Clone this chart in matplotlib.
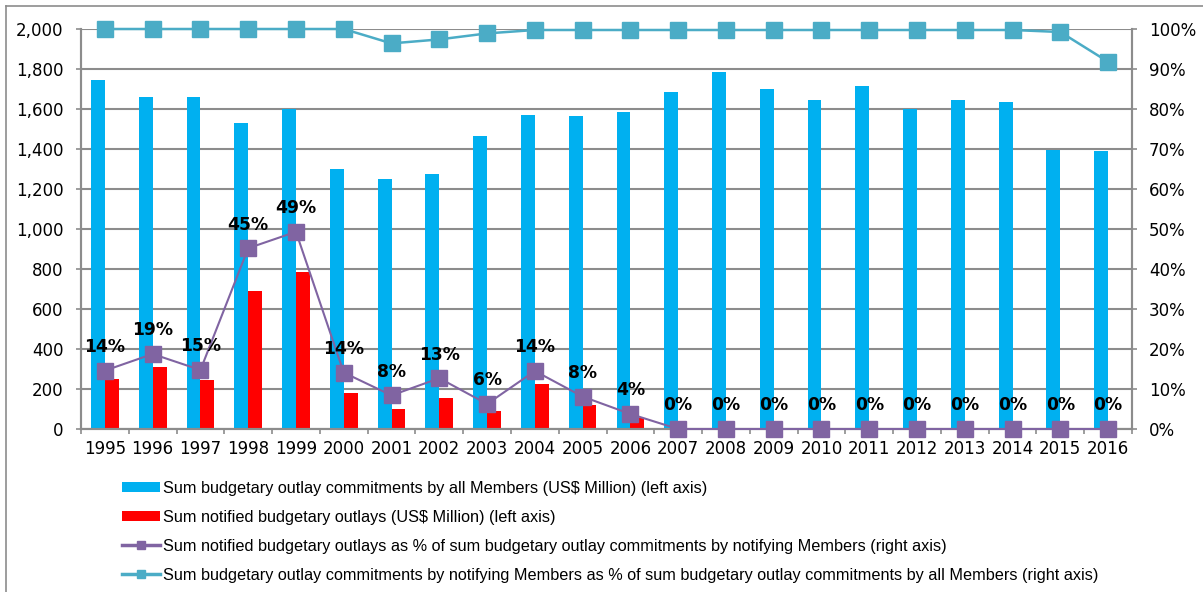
import numpy as np
import matplotlib.pyplot as plt
from matplotlib.lines import Line2D
from matplotlib.patches import Patch
from matplotlib.ticker import FuncFormatter

years = [str(y) for y in range(1995, 2017)]
commit_all = [1745, 1662, 1658, 1528, 1600, 1298, 1248, 1277, 1465, 1570, 1565,
              1583, 1685, 1785, 1702, 1643, 1715, 1600, 1645, 1637, 1395, 1390]
notified = [250, 310, 243, 690, 787, 182, 100, 157, 92, 223, 122,
            55, 0, 0, 0, 0, 0, 0, 0, 0, 0, 0]
pct_notified = [14.6, 18.75, 14.75, 45.2, 49.3, 14.1, 8.4, 12.7, 6.25, 14.5, 8.1,
                3.75, 0, 0, 0, 0, 0, 0, 0, 0, 0, 0]
pct_labels = ['14%', '19%', '15%', '45%', '49%', '14%', '8%', '13%', '6%', '14%', '8%',
              '4%', '0%', '0%', '0%', '0%', '0%', '0%', '0%', '0%', '0%', '0%']
pct_commit = [100, 100, 100, 100, 100, 100, 96.4, 97.4, 98.9, 99.75, 99.75,
              99.75, 99.75, 99.75, 99.75, 99.75, 99.75, 99.75, 99.75, 99.75, 99.25, 91.8]

legend_labels = [
    'Sum budgetary outlay commitments by all Members (US$ Million) (left axis)',
    'Sum notified budgetary outlays (US$ Million) (left axis)',
    'Sum notified budgetary outlays as % of sum budgetary outlay commitments by notifying Members (right axis)',
    'Sum budgetary outlay commitments by notifying Members as % of sum budgetary outlay commitments by all Members (right axis)',
]

BLUE, RED, PURPLE, TEAL, GRID = '#00B0F0', '#FF0000', '#8064A2', '#4BACC6', '#8C8C8C'

plt.rcParams['font.family'] = ['DejaVu Sans']
fig = plt.figure(figsize=(12.03, 5.92), dpi=100)
W, H = 1203, 592
ax = fig.add_axes([81 / W, 1 - 429 / H, (1132 - 81) / W, (429 - 29) / H])
ax2 = ax.twinx()

x = np.arange(len(years))
bw = 0.29
ax.bar(x - bw / 2, commit_all, width=bw, color=BLUE, zorder=2)
ax.bar(x + bw / 2, notified, width=bw, color=RED, zorder=2)

ax.set_xlim(-0.5, len(years) - 0.5)
ax.set_ylim(0, 2000)
ax.set_yticks(np.arange(0, 2001, 200))
ax.yaxis.set_major_formatter(FuncFormatter(lambda v, p: f'{int(v):,}'))
ax.yaxis.grid(True, color=GRID, linewidth=1.5, zorder=0)
ax.set_axisbelow(True)

ax.set_xticks(x)
ax.set_xticklabels(years)
ax.set_xticks(np.arange(-0.5, len(years), 1), minor=True)
ax.tick_params(axis='x', which='major', length=0, pad=8, labelsize=12)
ax.tick_params(axis='x', which='minor', length=3.6, color=GRID, width=1.2)
ax.tick_params(axis='y', length=3.6, color=GRID, width=1.2, pad=9, labelsize=12)

for a in (ax, ax2):
    a.spines['top'].set_visible(False)
    for s in ('left', 'right', 'bottom'):
        a.spines[s].set_color(GRID)
        a.spines[s].set_linewidth(1.5)

ax2.set_ylim(0, 100)
ax2.set_yticks(np.arange(0, 101, 10))
ax2.yaxis.set_major_formatter(FuncFormatter(lambda v, p: f'{int(v)}%'))
ax2.tick_params(axis='y', length=3.6, color=GRID, width=1.2, pad=8.5, labelsize=12)

ax2.plot(x, pct_commit, color=TEAL, linewidth=1.8, marker='s', markersize=11,
         markerfacecolor=TEAL, markeredgecolor=TEAL, zorder=3, clip_on=False)
ax2.plot(x, pct_notified, color=PURPLE, linewidth=1.5, marker='s', markersize=11,
         markerfacecolor=PURPLE, markeredgecolor=PURPLE, zorder=4, clip_on=False)
for xi, v, lab in zip(x, pct_notified, pct_labels):
    ax2.annotate(lab, (xi, v), xytext=(0, 17), textcoords='offset points',
                 ha='center', va='center', fontsize=12.3, fontweight='bold', zorder=5)

handles = [
    Patch(facecolor=BLUE),
    Patch(facecolor=RED),
    Line2D([], [], color=PURPLE, linewidth=2.5, marker='s', markersize=6),
    Line2D([], [], color=TEAL, linewidth=2.5, marker='s', markersize=6),
]
fig.legend(handles, legend_labels, loc='upper left', bbox_to_anchor=(114 / W, 1 - 473 / H),
           frameon=False, borderpad=0, labelspacing=0.85, handlelength=2.35,
           handleheight=0.55, handletextpad=0.15,
           prop={'family': ['Liberation Sans', 'DejaVu Sans'], 'size': 11.7})

# outer chart border (top and left visible in the reference)
fig.add_artist(Line2D([6 / W, 1], [1 - 6 / H, 1 - 6 / H], transform=fig.transFigure,
                      color=GRID, linewidth=1.2))
fig.add_artist(Line2D([6 / W, 6 / W], [0, 1 - 6 / H], transform=fig.transFigure,
                      color=GRID, linewidth=1.2))

fig.savefig('out.png', dpi=100)
